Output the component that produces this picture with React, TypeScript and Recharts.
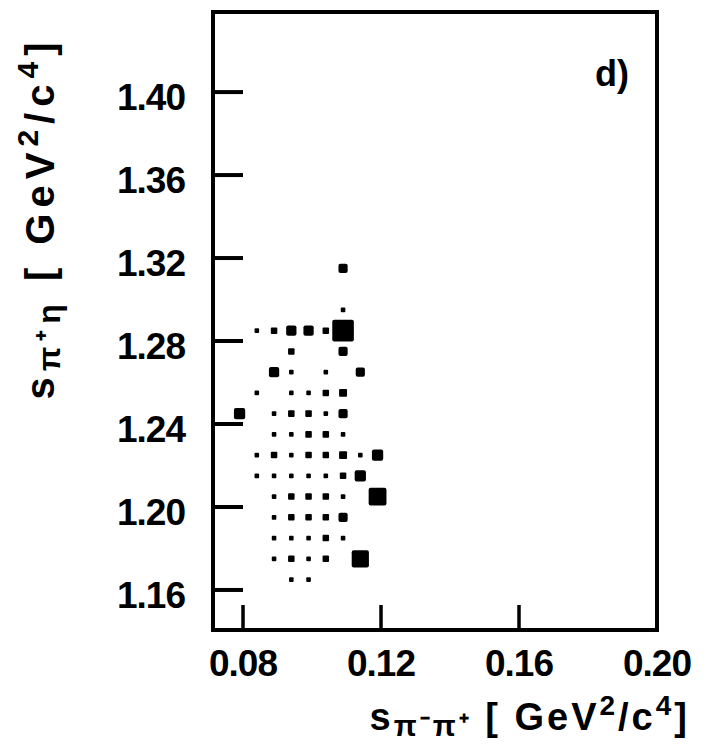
import React from 'react';
import { ScatterChart, Scatter, XAxis, YAxis, ReferenceArea } from 'recharts';

// bin centres
const xCenters = [0.079, 0.084, 0.089, 0.094, 0.099, 0.104, 0.109, 0.114, 0.119];
const yCenters = [1.315, 1.295, 1.285, 1.275, 1.265, 1.255, 1.245, 1.235, 1.225, 1.215, 1.205, 1.195, 1.185, 1.175, 1.165];
// events per bin (row = yCenters, column = xCenters)
const counts = [
  [0, 0, 0, 0, 0, 0, 4, 0, 0],
  [0, 0, 0, 0, 0, 0, 1, 0, 0],
  [0, 1, 2, 5, 5, 2, 22, 0, 0],
  [0, 0, 0, 2, 0, 0, 4, 0, 0],
  [0, 0, 5, 1, 0, 1, 0, 4, 0],
  [0, 1, 0, 1, 1, 2, 3, 0, 0],
  [6, 0, 1, 2, 2, 1, 4, 0, 0],
  [0, 0, 1, 1, 2, 2, 1, 0, 0],
  [0, 1, 2, 1, 2, 2, 3, 1, 6],
  [0, 1, 1, 1, 1, 1, 2, 6, 0],
  [0, 0, 1, 2, 2, 2, 1, 0, 15],
  [0, 0, 1, 2, 2, 2, 4, 0, 0],
  [0, 0, 1, 1, 1, 2, 1, 0, 0],
  [0, 0, 1, 2, 1, 2, 0, 14, 0],
  [0, 0, 0, 1, 1, 0, 0, 0, 0],
];
const xTicks = [0.08, 0.12, 0.16, 0.2];
const xTickLabels = ['0.08', '0.12', '0.16', '0.20'];
const yTicks = [1.16, 1.2, 1.24, 1.28, 1.32, 1.36, 1.4];
const yTickLabels = ['1.16', '1.20', '1.24', '1.28', '1.32', '1.36', '1.40'];
const xDomain = [0.0713, 0.2];
const yDomain = [1.1407, 1.4386];
const panelLabel = 'd)';

const points: { x: number; y: number; n: number }[] = [];
yCenters.forEach((y, r) => {
  counts[r].forEach((n, c) => {
    if (n > 0) points.push({ x: xCenters[c], y, n });
  });
});

const W = 721;
const H = 747;
const LEFT = 213;
const TOP = 12;
const RIGHT_M = 64;
const XAXIS_H = 117;
const FONT = '"Liberation Sans", Arial, sans-serif';

const Box = (props: any) => {
  const { cx, cy, payload } = props;
  if (cx == null || cy == null) return null;
  const s = 4.6 * Math.sqrt(payload.n);
  return <rect x={cx - s / 2} y={cy - s / 2} width={s} height={s} rx={s > 8 ? 2 : 1} fill="#000" />;
};

const YTick = (props: any) => {
  const { x, y, payload } = props;
  const i = yTicks.indexOf(payload.value);
  const label = i >= 0 ? yTickLabels[i] : String(payload.value);
  return (
    <g>
      <line x1={x} x2={x + 30} y1={y} y2={y} stroke="#000" strokeWidth={4} />
      <text x={x - 28} y={y + 18} textAnchor="end" fontFamily={FONT} fontWeight="bold" fontSize={37} letterSpacing={-1} fill="#000">
        {label}
      </text>
    </g>
  );
};

const XTick = (props: any) => {
  const { x, y, payload } = props;
  const i = xTicks.indexOf(payload.value);
  const label = i >= 0 ? xTickLabels[i] : String(payload.value);
  const last = i === xTicks.length - 1;
  return (
    <g>
      {!last && <line x1={x} x2={x} y1={y} y2={y - 25} stroke="#000" strokeWidth={3.5} />}
      <text x={x} y={y + 46} textAnchor="middle" fontFamily={FONT} fontWeight="bold" fontSize={37} letterSpacing={-1} fill="#000">
        {label}
      </text>
    </g>
  );
};

const XTitle = () => (
  <g>
    <text x={690} y={730} textAnchor="end" fontFamily={FONT} fontWeight="bold" fontSize={38} letterSpacing={3} fill="#000">
      <tspan>s</tspan>
      <tspan fontSize={30} dy={6}>π⁻π⁺</tspan>
      <tspan dy={-6}> [ GeV</tspan>
      <tspan fontSize={28} dy={-15}>2</tspan>
      <tspan dy={15}>/c</tspan>
      <tspan fontSize={28} dy={-15}>4</tspan>
      <tspan dy={15}>]</tspan>
    </text>
    <text x={595} y={86} fontFamily={FONT} fontWeight="bold" fontSize={36} fill="#000">
      {panelLabel}
    </text>
  </g>
);

const YTitle = () => (
  <text
    transform="translate(54,218) rotate(-90)"
    textAnchor="middle"
    fontFamily={FONT}
    fontWeight="bold"
    fontSize={40}
    letterSpacing={6}
    fill="#000"
  >
    <tspan>s</tspan>
    <tspan fontSize={32} dy={6}>π⁺η</tspan>
    <tspan dy={-6}> [ GeV</tspan>
    <tspan fontSize={30} dy={-16}>2</tspan>
    <tspan dy={16}>/c</tspan>
    <tspan fontSize={30} dy={-16}>4</tspan>
    <tspan dy={16}>]</tspan>
  </text>
);

const axisLine = { stroke: '#000', strokeWidth: 4 };

export default function App() {
  return (
    <div style={{ position: 'absolute', left: 0, top: 0, background: '#fff' }}>
      <ScatterChart width={W} height={H} margin={{ top: TOP, right: RIGHT_M, left: 0, bottom: 0 }}>
        <XAxis
          dataKey="x"
          type="number"
          domain={xDomain}
          ticks={xTicks}
          interval={0}
          allowDataOverflow
          height={XAXIS_H}
          tickLine={false}
          tickSize={0}
          tickMargin={0}
          axisLine={axisLine}
          tick={<XTick />}
          label={<XTitle />}
        />
        <YAxis
          dataKey="y"
          type="number"
          domain={yDomain}
          ticks={yTicks}
          interval={0}
          allowDataOverflow
          width={LEFT}
          tickLine={false}
          tickSize={0}
          tickMargin={0}
          axisLine={axisLine}
          tick={<YTick />}
          label={<YTitle />}
        />
        <ReferenceArea
          x1={xDomain[0]}
          x2={xDomain[1]}
          y1={yDomain[0]}
          y2={yDomain[1]}
          fill="none"
          fillOpacity={0}
          stroke="#000"
          strokeWidth={4}
          ifOverflow="visible"
        />
        <Scatter data={points} shape={<Box />} isAnimationActive={false} />
      </ScatterChart>
    </div>
  );
}
